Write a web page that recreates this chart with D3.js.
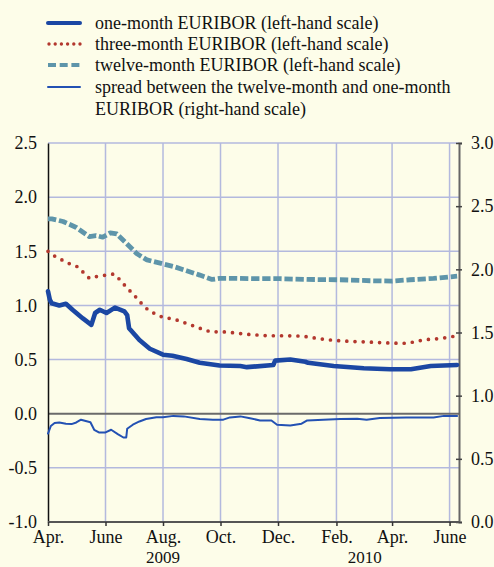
<!DOCTYPE html>
<html><head><meta charset="utf-8">
<script src="https://cdn.jsdelivr.net/npm/d3@7/dist/d3.min.js"></script>
<style>
html,body{margin:0;padding:0;background:#FDFDE9;}
svg{display:block;}
</style></head>
<body>
<svg id="chart" width="494" height="567" font-family="Liberation Serif"></svg>
<script>
// ---- data ----
const oneMonth = [
["2009-04-01",1.13],["2009-04-03",1.05],["2009-04-05",1.02],["2009-04-13",1.00],["2009-04-20",1.015],
["2009-04-27",0.96],["2009-05-08",0.88],["2009-05-17",0.82],["2009-05-21",0.93],["2009-05-26",0.96],
["2009-06-02",0.93],["2009-06-11",0.98],["2009-06-21",0.945],["2009-06-24",0.91],["2009-06-26",0.79],
["2009-07-07",0.68],["2009-07-18",0.60],["2009-08-01",0.545],["2009-08-11",0.535],["2009-08-26",0.505],
["2009-09-09",0.47],["2009-09-30",0.445],["2009-10-22",0.44],["2009-10-29",0.43],["2009-11-26",0.45],
["2009-11-28",0.49],["2009-12-14",0.50],["2009-12-30",0.48],["2010-01-02",0.47],["2010-01-29",0.44],
["2010-03-02",0.42],["2010-03-30",0.41],["2010-04-21",0.41],["2010-05-12",0.44],["2010-06-09",0.45]
];
const threeMonth = [
["2009-04-01",1.50],["2009-04-09",1.45],["2009-04-17",1.415],["2009-04-25",1.38],["2009-05-03",1.355],
["2009-05-09",1.30],["2009-05-15",1.25],["2009-05-24",1.27],["2009-06-02",1.28],["2009-06-10",1.29],
["2009-06-16",1.24],["2009-06-22",1.18],["2009-06-28",1.125],["2009-07-04",1.07],["2009-07-10",1.01],
["2009-07-16",0.96],["2009-07-24",0.92],["2009-08-01",0.89],["2009-08-10",0.877],["2009-08-18",0.86],
["2009-08-27",0.83],["2009-09-04",0.806],["2009-09-12",0.78],["2009-09-21",0.755],["2009-09-30",0.757],
["2009-10-08",0.755],["2009-10-17",0.745],["2009-11-03",0.73],["2009-11-21",0.72],["2009-12-09",0.72],
["2009-12-27",0.717],["2010-01-12",0.695],["2010-01-29",0.677],["2010-02-16",0.668],["2010-03-06",0.662],
["2010-03-23",0.655],["2010-04-10",0.65],["2010-04-18",0.652],["2010-05-05",0.683],["2010-05-23",0.695],
["2010-06-09",0.72]
];
const twelveMonth = [
["2009-04-01",1.80],["2009-04-05",1.80],["2009-04-17",1.775],["2009-05-01",1.72],["2009-05-15",1.635],
["2009-05-22",1.645],["2009-05-29",1.63],["2009-06-06",1.67],["2009-06-13",1.66],["2009-06-23",1.575],
["2009-07-04",1.48],["2009-07-15",1.42],["2009-07-29",1.39],["2009-08-12",1.36],["2009-08-26",1.32],
["2009-09-09",1.28],["2009-09-22",1.24],["2009-09-30",1.25],["2009-10-18",1.25],["2009-11-05",1.247],
["2009-12-03",1.247],["2010-01-01",1.24],["2010-02-05",1.237],["2010-03-09",1.228],["2010-04-01",1.225],
["2010-04-20",1.237],["2010-05-15",1.25],["2010-06-09",1.27]
];
const spread = [
["2009-04-01",0.70],["2009-04-04",0.76],["2009-04-08",0.783],["2009-04-13",0.788],["2009-04-20",0.778],
["2009-04-26",0.775],["2009-05-01",0.788],["2009-05-06",0.81],["2009-05-11",0.80],["2009-05-16",0.79],
["2009-05-20",0.73],["2009-05-25",0.709],["2009-06-01",0.709],["2009-06-07",0.73],["2009-06-14",0.696],
["2009-06-20",0.669],["2009-06-23",0.669],["2009-06-24",0.738],["2009-06-30",0.77],["2009-07-07",0.796],
["2009-07-14",0.815],["2009-07-25",0.83],["2009-08-01",0.83],["2009-08-12",0.84],["2009-08-23",0.836],
["2009-09-09",0.815],["2009-09-23",0.81],["2009-10-04",0.81],["2009-10-11",0.828],["2009-10-22",0.836],
["2009-10-31",0.823],["2009-11-12",0.804],["2009-11-24",0.804],["2009-11-30",0.77],["2009-12-14",0.764],
["2009-12-26",0.778],["2010-01-01",0.804],["2010-01-18",0.81],["2010-02-05",0.815],["2010-02-23",0.817],
["2010-03-05",0.81],["2010-03-19",0.823],["2010-04-16",0.828],["2010-05-15",0.828],["2010-05-26",0.84],
["2010-06-09",0.84]
];
const leftTicks = [-1.0,-0.5,0.0,0.5,1.0,1.5,2.0,2.5];
const leftTickLabels = ["-1.0","-0.5","0.0","0.5","1.0","1.5","2.0","2.5"];
const rightTicks = [0.0,0.5,1.0,1.5,2.0,2.5,3.0];
const rightTickLabels = ["0.0","0.5","1.0","1.5","2.0","2.5","3.0"];
const monthTicks = ["2009-04-01","2009-06-01","2009-08-01","2009-10-01","2009-12-01","2010-02-01","2010-04-01","2010-06-01"];
const monthLabels = ["Apr.","June","Aug.","Oct.","Dec.","Feb.","Apr.","June"];
const yearLabels = [["2009","2009-08-01"],["2010","2010-03-03"]];
const legendItems = [
  {key:"one", lines:["one-month EURIBOR (left-hand scale)"]},
  {key:"three", lines:["three-month EURIBOR (left-hand scale)"]},
  {key:"twelve", lines:["twelve-month EURIBOR (left-hand scale)"]},
  {key:"spread", lines:["spread between the twelve-month and one-month","EURIBOR (right-hand scale)"]}
];

// ---- styles ----
const FONT = "Liberation Serif";
const styles = {
  one:{color:"#1B47A3", width:4.6, dash:null, cap:"round"},
  three:{color:"#B3382E", width:3.7, dash:"0,8.2", cap:"round"},
  twelve:{color:"#5E95AA", width:4.8, dash:"8.3,2.8", cap:"butt"},
  spread:{color:"#2351B3", width:2, dash:null, cap:"round"}
};

const parse = d3.timeParse("%Y-%m-%d");
const svg = d3.select("#chart");
const L = 48, R = 459, T = 143, B = 522;

const x = d3.scaleTime().domain([parse("2009-04-01"), parse("2010-06-11")]).range([L, R]);
const yL = d3.scaleLinear().domain([-1, 2.5]).range([B, T]);
const yR = d3.scaleLinear().domain([0, 3]).range([B, T]);

const grid = "#B3B9DE";
svg.append("g").selectAll("line").data(leftTicks.filter(v => v !== -1 && v !== 0)).join("line")
  .attr("x1", L).attr("x2", R).attr("y1", d => yL(d)).attr("y2", d => yL(d))
  .attr("stroke", grid).attr("stroke-width", 1.5);
svg.append("g").selectAll("line").data(monthTicks.slice(1)).join("line")
  .attr("x1", d => x(parse(d))).attr("x2", d => x(parse(d))).attr("y1", T).attr("y2", B)
  .attr("stroke", grid).attr("stroke-width", 1.5);

svg.append("line").attr("x1", L).attr("x2", R).attr("y1", yL(0)).attr("y2", yL(0))
  .attr("stroke", "#6A6A6A").attr("stroke-width", 2);

function styleText(g) {
  g.attr("font-family", FONT).attr("font-size", 18);
  g.selectAll("text").attr("font-family", FONT).attr("font-size", 18).attr("fill", "#111");
}

const leftAxis = d3.axisLeft(yL).tickValues(leftTicks).tickSize(0).tickPadding(11)
  .tickFormat((d, i) => leftTickLabels[i]);
const gL = svg.append("g").attr("transform", `translate(${L},0)`).call(leftAxis);
gL.select(".domain").attr("stroke", "#111").attr("stroke-width", 1.5);
styleText(gL);

const rightAxis = d3.axisRight(yR).tickValues(rightTicks).tickSize(3).tickPadding(9)
  .tickFormat((d, i) => rightTickLabels[i]);
const gR = svg.append("g").attr("transform", `translate(${R},0)`).call(rightAxis);
gR.select(".domain").attr("stroke", "#666").attr("stroke-width", 2);
gR.selectAll(".tick line").attr("stroke", "#444").attr("stroke-width", 1.5).attr("x1", -3);
styleText(gR);

const bottomAxis = d3.axisBottom(x).tickValues(monthTicks.map(parse)).tickSize(4).tickPadding(4.5)
  .tickFormat((d, i) => monthLabels[i]);
const gB = svg.append("g").attr("transform", `translate(0,${B})`).call(bottomAxis);
gB.select(".domain").attr("stroke", "#555").attr("stroke-width", 2).attr("d", `M${L},0H${R}`);
gB.selectAll(".tick line").attr("stroke", "#333").attr("stroke-width", 1.5);
styleText(gB);

svg.append("g").selectAll("text").data(yearLabels).join("text")
  .attr("x", d => x(parse(d[1]))).attr("y", 563)
  .attr("text-anchor", "middle").attr("font-family", FONT).attr("font-size", 17)
  .attr("fill", "#111").text(d => d[0]);

function drawLine(data, yScale, st) {
  const line = d3.line().x(d => x(parse(d[0]))).y(d => yScale(d[1]));
  const p = svg.append("path").datum(data).attr("d", line).attr("fill", "none")
    .attr("stroke", st.color).attr("stroke-width", st.width)
    .attr("stroke-linecap", st.cap).attr("stroke-linejoin", "round");
  if (st.dash) p.attr("stroke-dasharray", st.dash);
}
drawLine(spread, yR, styles.spread);
drawLine(twelveMonth, yL, styles.twelve);
drawLine(threeMonth, yL, styles.three);
drawLine(oneMonth, yL, styles.one);

const legY = [23, 44, 65, 87];
const lg = svg.append("g");
legendItems.forEach((it, i) => {
  const st = styles[it.key];
  const l = lg.append("line").attr("x1", 48).attr("x2", 80).attr("y1", legY[i]).attr("y2", legY[i])
    .attr("stroke", st.color).attr("stroke-width", it.key === "spread" ? 2 : (it.key === "three" ? 3.4 : 4))
    .attr("stroke-linecap", st.cap);
  if (it.key === "three") l.attr("x1", 49).attr("stroke-dasharray", "0,6.2");
  if (it.key === "twelve") l.attr("stroke-dasharray", "8,3.7");
  it.lines.forEach((t, j) => {
    lg.append("text").attr("x", 95).attr("y", legY[i] + j * 21.5).attr("dy", "0.35em")
      .attr("font-family", FONT).attr("font-size", 18).attr("fill", "#111").text(t);
  });
});
</script>
</body></html>
